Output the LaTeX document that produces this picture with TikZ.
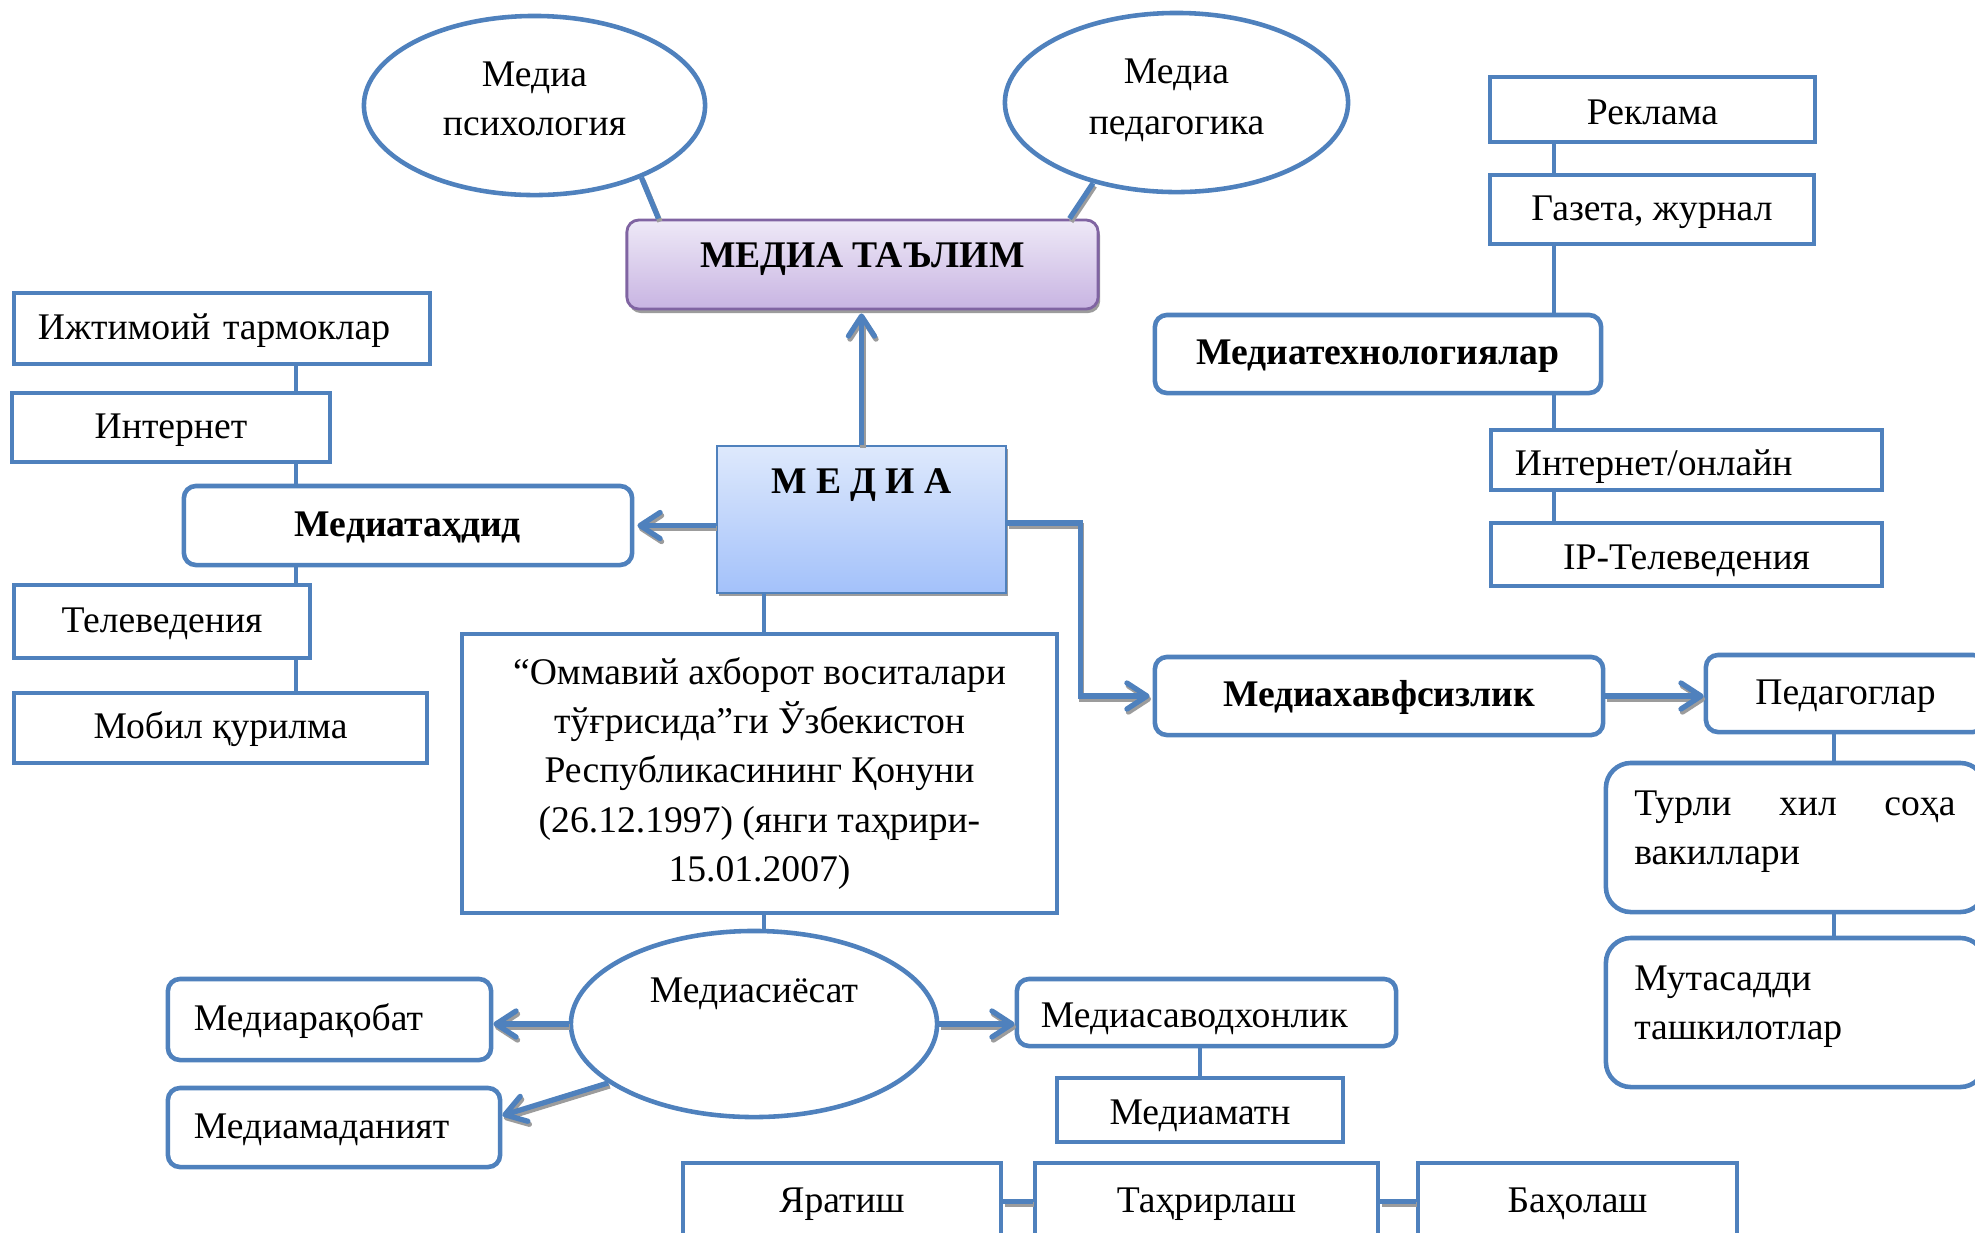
\documentclass[tikz,border=0pt]{standalone}
\usepackage{fontspec}
\setmainfont{Liberation Serif}
\usetikzlibrary{arrows.meta,shapes.geometric,shadows}
\definecolor{mblue}{HTML}{4F81BD}
\definecolor{mpurple}{HTML}{8064A2}
\definecolor{shgray}{HTML}{9C9C9C}
\definecolor{talimtop}{HTML}{EEE9F7}
\definecolor{talimbot}{HTML}{C8B4E2}
\definecolor{mediatop}{HTML}{DEE9FC}
\definecolor{mediabot}{HTML}{A3C1FA}
\newcommand\bnode[7]{%
  \pgfmathsetmacro\bcx{(#3+#5)/2}%
  \pgfmathsetmacro\bcy{(#4+#6)/2}%
  \pgfmathsetmacro\bw{(#5-#3)/100}%
  \pgfmathsetmacro\bh{(#6-#4)/100}%
  \node[#1,minimum width=\bw cm,minimum height=\bh cm] (#2) at (\bcx,\bcy) {#7};}
\newcommand\nfont{\fontsize{10.7pt}{14pt}\selectfont}
\tikzset{
  frame/.style={draw=mblue, line width=1.3pt, fill=white, inner sep=0pt, align=center},
  sq/.style={frame, text height=0.8em, text depth=0.2em},
  low/.style={text height=0.95em, text depth=0.1em},
  rd/.style={sq, rounded corners=0.12cm},
  rdl/.style={frame, rounded corners=0.25cm},
  oval/.style={ellipse, draw=mblue, line width=1.3pt, fill=white, inner sep=0pt, align=center},
  tree/.style={draw=mblue, line width=1.3pt},
  link/.style={draw=mblue, line width=1.5pt,
    preaction={draw=shgray, line width=1.5pt, transform canvas={xshift=0.015cm,yshift=-0.03cm}}},
  arr/.style={link, -{Straight Barb[length=2mm,width=2.6mm,round]}},
  bold/.style={font=\nfont\bfseries},
}
\begin{document}
\begin{tikzpicture}[x=0.01cm,y=-0.01cm,font=\nfont]
\useasboundingbox (0,0) rectangle (1975,1232);
\fill[white] (0,0) rectangle (1975,1232);
\clip (0,0) rectangle (1975,1232);

% top
\bnode{oval, label={[align=center, yshift=0.07cm]center:Медиа\\психология}}{psy}{364}{16}{705}{195}{}
\bnode{oval, label={[align=center, yshift=0.02cm, font=\fontsize{10.7pt}{14.6pt}\selectfont]center:Медиа\\педагогика}}{pedag}{1005}{13}{1348}{192}{}
\bnode{draw=mpurple, line width=0.8pt, rounded corners=0.12cm, top color=talimtop, bottom color=talimbot,
  general shadow={fill=shgray, shadow xshift=0.02cm, shadow yshift=-0.04cm}, bold, inner sep=0pt,
  text height=0.5em, text depth=0.32em}{talim}{627}{220}{1098}{309}{МЕДИА ТАЪЛИМ}
\bnode{draw=mblue, line width=0.7pt, top color=mediatop, bottom color=mediabot,
  general shadow={fill=shgray, shadow xshift=0.02cm, shadow yshift=-0.03cm}, inner sep=0pt,
  label={[anchor=center, yshift=-0.40cm, font=\nfont\bfseries]north:М Е Д И А}}{media}{717}{446}{1006}{593}{}

% left tree
\bnode{sq, align=left, text width=3.68cm}{ijt}{14}{293}{430}{364}{Ижтимоий тармоклар}
\bnode{sq}{inet}{12}{393}{330}{462}{Интернет}
\bnode{rd, bold}{tahdid}{184}{486}{632}{565}{Медиатаҳдид}
\bnode{sq}{tv}{14}{585}{310}{658}{Телеведения}
\bnode{sq}{mob}{14}{693}{427}{763}{Мобил қурилма}
\coordinate (lx) at (296,0);
\draw[tree] (ijt.south -| lx) -- (inet.north -| lx);
\draw[tree] (inet.south -| lx) -- (tahdid.north -| lx);
\draw[tree] (tahdid.south -| lx) -- (tv.north -| lx);
\draw[tree] (tv.south -| lx) -- (mob.north -| lx);

% right tree
\bnode{sq, low}{rek}{1490}{77}{1815}{142}{Реклама}
\bnode{sq}{gaz}{1490}{175}{1814}{244}{Газета, журнал}
\bnode{rd, bold}{tech}{1155}{315}{1601}{393}{Медиатехнологиялар}
\bnode{sq, align=left, text width=3.43cm, text height=1.0em, text depth=0.1em}{onl}{1491}{430}{1882}{490}{Интернет/онлайн}
\bnode{sq, low}{iptv}{1491}{523}{1882}{586}{IP-Телеведения}
\coordinate (rx) at (1554,0);
\draw[tree] (rek.south -| rx) -- (gaz.north -| rx);
\draw[tree] (gaz.south -| rx) -- (tech.north -| rx);
\draw[tree] (tech.south -| rx) -- (onl.north -| rx);
\draw[tree] (onl.south -| rx) -- (iptv.north -| rx);

% safety branch
\bnode{rd, bold}{hav}{1155}{657}{1603}{735}{Медиахавфсизлик}
\bnode{rd}{teachers}{1706}{655}{1985}{732}{Педагоглар}
\bnode{rdl, label={[anchor=north west, inner sep=0pt, align=left, text width=3.21cm, xshift=0.30cm, yshift=-0.29cm]north west:{Турли \hfill хил \hfill соҳа\\вакиллари}}}{turli}{1606}{763}{1985}{912}{}
\bnode{rdl, label={[anchor=north west, inner sep=0pt, align=left, text width=3.21cm, xshift=0.30cm, yshift=-0.29cm]north west:{Мутасадди\\ташкилотлар}}}{mutas}{1606}{938}{1985}{1087}{}
\coordinate (tx) at (1834,0);
\draw[tree] (teachers.south -| tx) -- (turli.north -| tx);
\draw[tree] (turli.south -| tx) -- (mutas.north -| tx);

% law and policy
\bnode{frame}{law}{462}{634}{1057}{913}{“Оммавий ахборот воситалари\\тўғрисида”ги Ўзбекистон\\Республикасининг Қонуни\\(26.12.1997) (янги таҳрири-\\15.01.2007)}
\bnode{oval, label={[yshift=0.30cm]center:Медиасиёсат}}{siyosat}{571}{931}{937}{1117}{}
\coordinate (mx) at (764,0);
\draw[tree] (media.south -| mx) -- (law.north -| mx);
\draw[tree] (law.south -| mx) -- (siyosat.north -| mx);

\bnode{rd, align=left, text width=2.71cm}{raqobat}{168}{979}{491}{1060}{Медиарақобат}
\bnode{rd, align=left, text width=2.8cm}{madaniyat}{168}{1088}{500}{1167}{Медиамаданият}
\bnode{rd, low, align=left, text width=3.31cm}{savod}{1017}{979}{1396}{1046}{Медиасаводхонлик}
\bnode{sq, low}{matn}{1057}{1078}{1343}{1142}{Медиаматн}
\draw[tree] (savod.south -| matn.north) -- (matn.north);

\bnode{sq}{yarat}{683}{1163}{1001}{1240}{Яратиш}
\bnode{sq}{tahrir}{1035}{1163}{1378}{1240}{Таҳрирлаш}
\bnode{sq}{baho}{1418}{1163}{1737}{1240}{Баҳолаш}
\draw[link] (yarat.east) -- (tahrir.west);
\draw[link] (tahrir.east) -- (baho.west);

% links to talim
\draw[link] (psy.-34) -- ([xshift=0.33cm]talim.north west);
\draw[link] (pedag.224) -- ([xshift=-0.30cm]talim.north east);

% arrows
\draw[arr, shorten >=0.03cm] (media.north) -- (media.north |- talim.south);
\draw[arr, shorten >=0.03cm] (media.west |- tahdid.east) -- (tahdid.east);
\draw[arr, shorten >=0.03cm] ([yshift=-0.035cm]media.east) -- ++(73,0) |- (hav.west);
\draw[arr] (hav.east) -- (hav.east -| teachers.west);
\draw[arr] (siyosat.west) -- (siyosat.west -| raqobat.east);
\draw[arr] (siyosat.202) -- ([yshift=0.12cm]madaniyat.east);
\draw[arr] (siyosat.east) -- (siyosat.east -| savod.west);
\end{tikzpicture}
\end{document}
